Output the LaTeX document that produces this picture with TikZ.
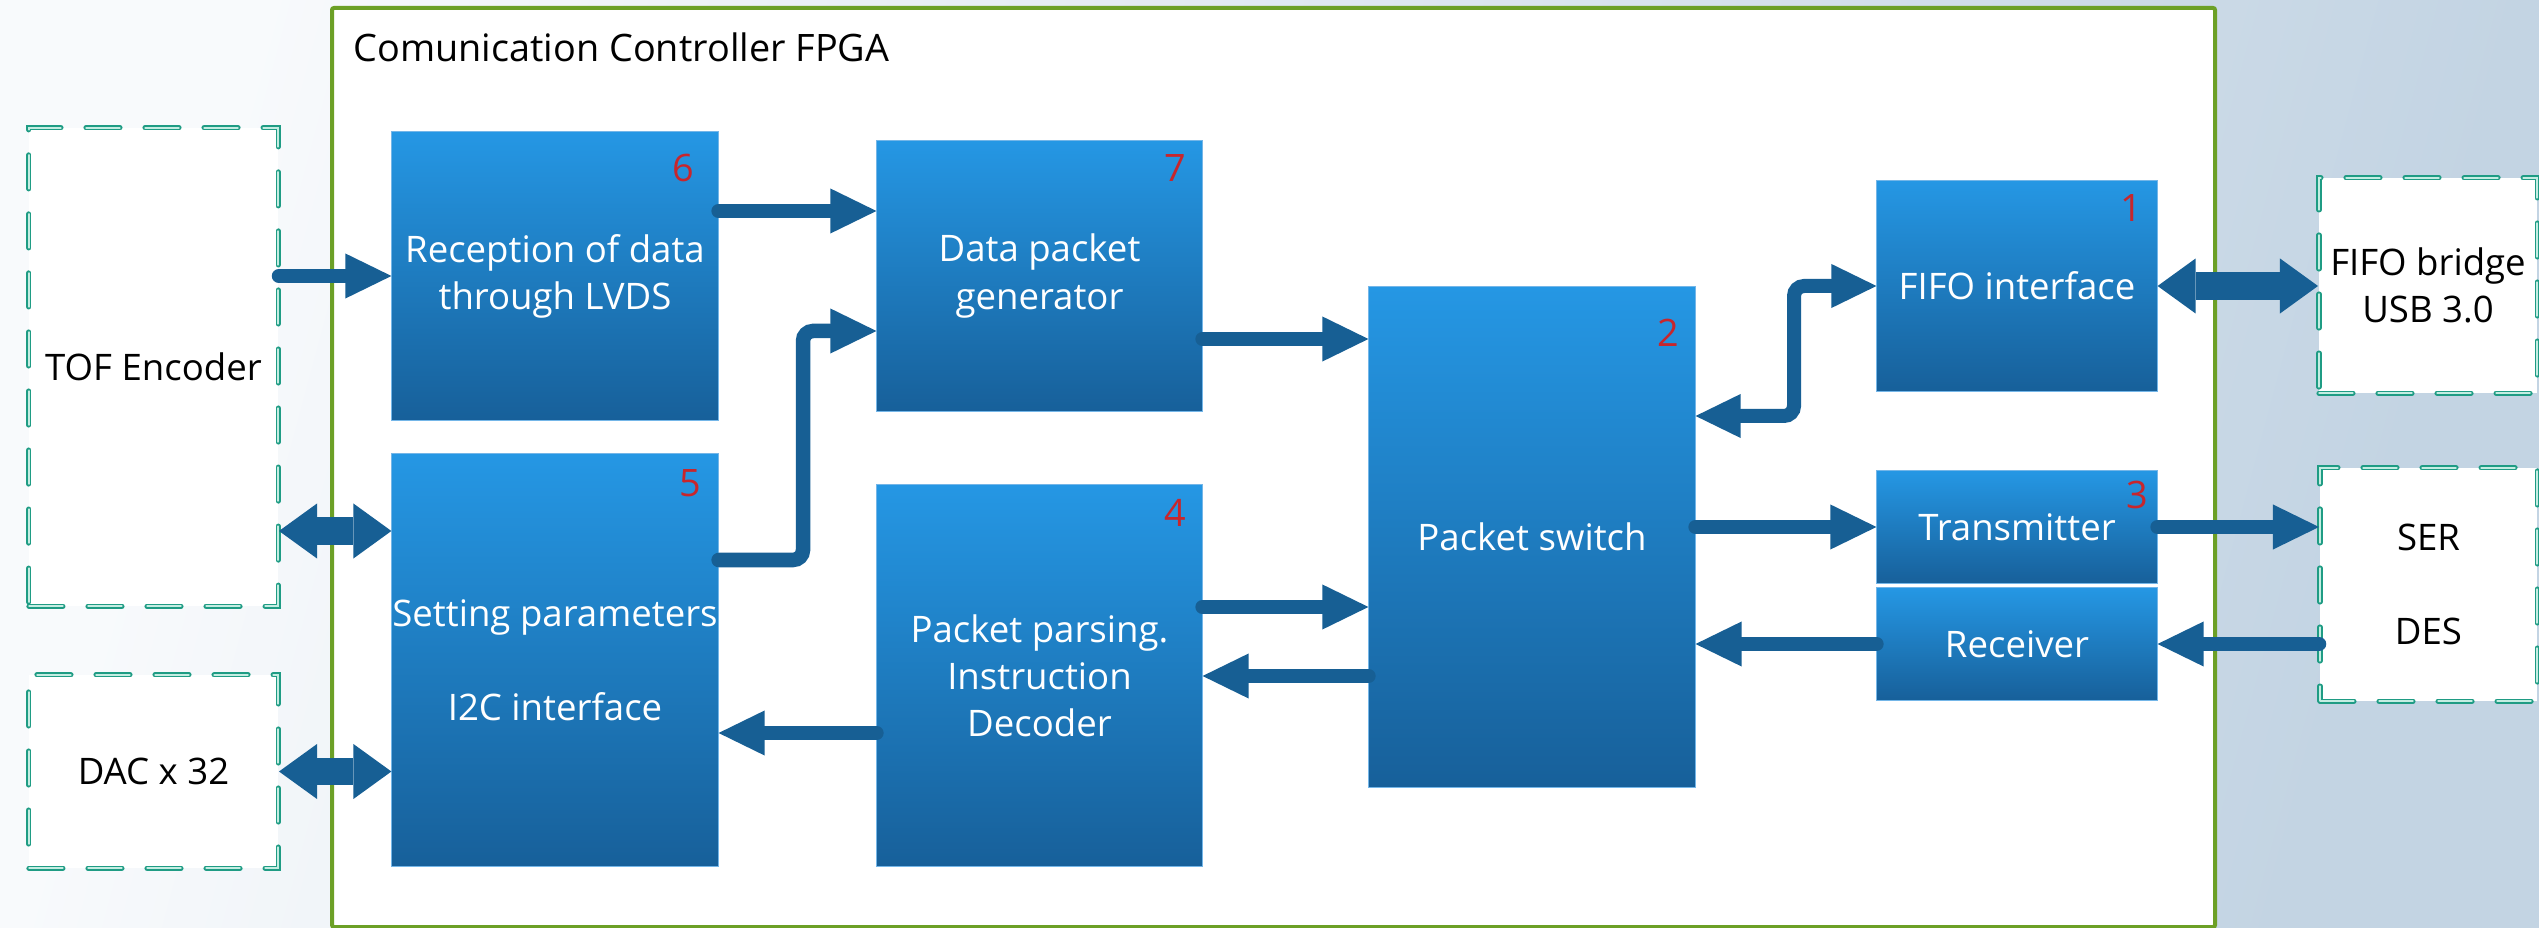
\documentclass[tikz,border=0pt]{standalone}
\usepackage{fontspec}
\setmainfont{Open Sans}
\usetikzlibrary{arrows.meta,calc}
\definecolor{bgleft}{HTML}{F8FAFC}
\definecolor{bgright}{HTML}{C3D4E3}
\definecolor{fpgagreen}{HTML}{6CA026}
\definecolor{blktop}{HTML}{2597E4}
\definecolor{blkbot}{HTML}{17609A}
\definecolor{blkedge}{HTML}{74B6E8}
\definecolor{arrowc}{HTML}{175F94}
\definecolor{numred}{HTML}{C8262C}
\definecolor{dashteal}{HTML}{1F9C84}
\definecolor{dashin}{HTML}{C4EDE2}
\newcommand{\blkfont}{\fontsize{10.4pt}{13.4pt}\selectfont}
\newcommand{\bigfont}{\fontsize{10.75pt}{13.4pt}\selectfont}
\tikzset{
  block/.style={draw=blkedge, line width=0.01cm, top color=blktop, bottom color=blkbot,
    text=white, align=center, inner sep=0pt, font=\blkfont},
  extbox/.style={draw=dashteal, fill=white, line width=0.019cm, double=dashin, double distance=0.013cm,
    dash pattern=on 0.34cm off 0.25cm, line cap=round, text=black, align=center, inner sep=0pt, font=\blkfont},
  num/.style={text=numred, font=\bigfont, inner sep=0pt},
  arr/.style={draw=arrowc, line width=0.145cm, line cap=round,
    -{Triangle[length=0.46cm,width=0.45cm,line width=0pt]}},
  dblthin/.style={draw=arrowc, line width=0.14cm, line cap=round, rounded corners=0.1cm,
    {Triangle[length=0.45cm,width=0.44cm,line width=0pt]}-{Triangle[length=0.45cm,width=0.44cm,line width=0pt]}},
  dbl/.style={draw=arrowc, line width=0.27cm,
    {Triangle[length=0.38cm,width=0.55cm,line width=0pt]}-{Triangle[length=0.38cm,width=0.55cm,line width=0pt]}}
}
\begin{document}
\begin{tikzpicture}[x=0.01cm,y=-0.01cm]
% background
\shade[left color=bgleft, right color=bgright, shading angle=75] (0,0) rectangle (2539,928);
\useasboundingbox (0,0) rectangle (2539,928);
% FPGA frame
\draw[fpgagreen, fill=white, line width=0.04cm, rounded corners=0.02cm] (332,8) rectangle (2215,927);
\node[anchor=base west, font=\bigfont, inner sep=0pt] (title) at (353,62) {Comunication Controller FPGA};

% external dashed boxes
\node[extbox, minimum width=2.49cm, minimum height=4.78cm] (tof) at (153.5,367) {TOF Encoder};
\node[extbox, minimum width=2.49cm, minimum height=1.93cm] (dac) at (153.5,771.5) {DAC x 32};
\node[extbox, minimum width=2.18cm, minimum height=2.15cm] (fb) at (2428,285.5) {FIFO bridge\\USB 3.0};
\node[extbox, minimum width=2.17cm, minimum height=2.33cm] (sd) at (2428.5,584.5) {SER\\[0.47cm]DES};

% blocks
\node[block, minimum width=3.26cm, minimum height=2.88cm] (b6) at (555,276) {Reception of data\\through LVDS};
\node[block, minimum width=3.26cm, minimum height=4.12cm] (b5) at (555,660) {Setting parameters\\[0.47cm]I2C interface};
\node[block, minimum width=3.25cm, minimum height=2.70cm] (b7) at (1039.5,276) {Data packet\\generator};
\node[block, minimum width=3.25cm, minimum height=3.81cm] (b4) at (1039.5,675.5) {Packet parsing.\\Instruction\\Decoder};
\node[block, minimum width=3.26cm, minimum height=5.00cm] (sw) at (1532,537) {Packet switch};
\node[block, minimum width=2.80cm, minimum height=2.10cm] (b1) at (2017,286) {FIFO interface};
\node[block, minimum width=2.80cm, minimum height=1.12cm] (tx) at (2017,527) {Transmitter};
\node[block, minimum width=2.80cm, minimum height=1.12cm] (rx) at (2017,644) {Receiver};

% numbers
\node[num] (n6) at (683,168) {6};
\node[num] (n5) at (690,483) {5};
\node[num] (n7) at (1175,168) {7};
\node[num] (n4) at (1175,513) {4};
\node[num] (n2) at (1668,333) {2};
\node[num] (n1) at (2131,208) {1};
\node[num] (n3) at (2137,495) {3};

% connectors
\draw[arr] (b6.west -| tof.east) -- (b6.west);
\draw[dbl] (tof.east |- 0,531) -- (b5.west |- 0,531);
\draw[dbl] (dac.east) -- (dac.east -| b5.west);
\draw[arr] (b6.east |- 0,211) -- (b7.west |- 0,211);
\coordinate (k5) at (803,331);
\draw[arr, rounded corners=0.1cm] (b5.east |- 0,560) -| (k5) -- (b7.west |- k5);
\draw[arr] (b7.east |- 0,339) -- (sw.west |- 0,339);
\draw[arr] (b4.east |- 0,607) -- (sw.west |- 0,607);
\draw[arr] (sw.west |- 0,676) -- (b4.east |- 0,676);
\draw[arr] (b4.west |- 0,733) -- (b5.east |- 0,733);
\coordinate (k1) at (1794,416);
\draw[dblthin] (sw.east |- k1) -- (k1) |- (b1.west);
\draw[arr] (sw.east |- tx.west) -- (tx.west);
\draw[arr] (rx.west) -- (rx.west -| sw.east);
\draw[arr] (tx.east) -- (tx.east -| sd.west);
\draw[arr] (rx.east -| sd.west) -- (rx.east);
\draw[dbl] (b1.east) -- (b1.east -| fb.west);
\end{tikzpicture}
\end{document}
